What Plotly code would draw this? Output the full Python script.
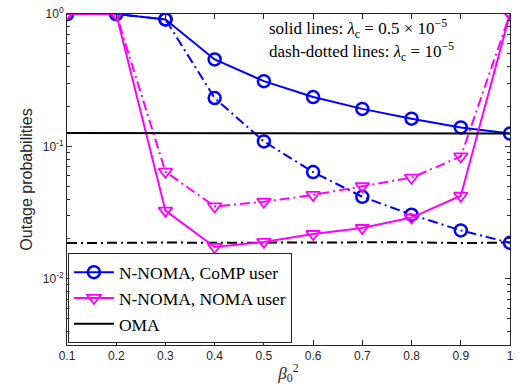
import plotly.graph_objects as go

beta = [0.1, 0.2, 0.3, 0.4, 0.5, 0.6, 0.7, 0.8, 0.9, 1.0]
comp_solid = [1.0, 1.0, 0.91, 0.454, 0.311, 0.236, 0.192, 0.162, 0.139, 0.125]
noma_solid = [1.0, 1.0, 0.0327, 0.0174, 0.0190, 0.0218, 0.0242, 0.0290, 0.0424, 1.0]
oma_solid = [0.126, 0.126, 0.126, 0.126, 0.126, 0.126, 0.126, 0.126, 0.126, 0.125]
comp_dd = [1.0, 1.0, 0.91, 0.232, 0.109, 0.064, 0.0416, 0.0305, 0.0232, 0.0187]
noma_dd = [1.0, 1.0, 0.0644, 0.0352, 0.0382, 0.043, 0.050, 0.058, 0.084, 1.0]
oma_dd = [0.0186, 0.0188, 0.0188, 0.0187, 0.0188, 0.0188, 0.0188, 0.0189, 0.0186, 0.0188]

xticks = [0.1, 0.2, 0.3, 0.4, 0.5, 0.6, 0.7, 0.8, 0.9, 1.0]
xticklabels = ["0.1", "0.2", "0.3", "0.4", "0.5", "0.6", "0.7", "0.8", "0.9", "1"]
yticks = [0.01, 0.1, 1]
yticklabels = ["10<sup>-2</sup>", "10<sup>-1</sup>", "10<sup>0</sup>"]
yminor = [0.004, 0.005, 0.006, 0.007, 0.008, 0.009,
          0.02, 0.03, 0.04, 0.05, 0.06, 0.07, 0.08, 0.09,
          0.2, 0.3, 0.4, 0.5, 0.6, 0.7, 0.8, 0.9]

BLUE = "rgb(0,0,255)"
MAG = "rgb(255,0,255)"
DD = "10px,4px,2px,4px"

fig = go.Figure()
fig.add_trace(go.Scatter(x=beta, y=oma_dd, mode="lines", line=dict(color="black", width=2, dash=DD), showlegend=False))
fig.add_trace(go.Scatter(x=beta, y=comp_dd, mode="lines+markers", line=dict(color=BLUE, width=2, dash=DD),
                         marker=dict(symbol="circle-open", size=12, line=dict(width=2.5, color=BLUE)), showlegend=False))
fig.add_trace(go.Scatter(x=beta, y=noma_dd, mode="lines+markers", line=dict(color=MAG, width=2, dash=DD),
                         marker=dict(symbol="triangle-down-open", size=12, line=dict(width=1.8, color=MAG)), showlegend=False))
fig.add_trace(go.Scatter(x=beta, y=comp_solid, mode="lines+markers", name="N-NOMA, CoMP user",
                         line=dict(color=BLUE, width=2),
                         marker=dict(symbol="circle-open", size=12, line=dict(width=2.5, color=BLUE))))
fig.add_trace(go.Scatter(x=beta, y=noma_solid, mode="lines+markers", name="N-NOMA, NOMA user",
                         line=dict(color=MAG, width=2),
                         marker=dict(symbol="triangle-down-open", size=12, line=dict(width=1.8, color=MAG))))
fig.add_trace(go.Scatter(x=beta, y=oma_solid, mode="lines", name="OMA", line=dict(color="black", width=2)))
# invisible carrier trace for the minor-tick axis
fig.add_trace(go.Scatter(x=[beta[0]], y=[yticks[-1]], yaxis="y2", mode="markers",
                         marker=dict(opacity=0), showlegend=False, hoverinfo="skip"))

axcol = "rgb(38,38,38)"
fig.update_layout(
    width=519, height=388,
    margin=dict(l=67, r=5, t=11, b=43),
    paper_bgcolor="white", plot_bgcolor="white",
    font=dict(family="Liberation Sans, Arial", size=12, color=axcol),
    legend=dict(x=0.002, y=0.005, xanchor="left", yanchor="bottom",
                bgcolor="white", bordercolor="rgb(38,38,38)", borderwidth=1,
                font=dict(family="Liberation Serif, DejaVu Serif", size=17.5, color="black"),
                tracegroupgap=0, itemwidth=40),
    xaxis=dict(range=[0.1, 1.0], tickvals=xticks, ticktext=xticklabels,
               ticks="inside", ticklen=5, tickcolor=axcol, showline=True, linecolor=axcol, linewidth=1,
               mirror="ticks", showgrid=False, zeroline=False,
               title=dict(text="<i>β</i><sub>0</sub><sup>2</sup>", standoff=4,
                          font=dict(family="Liberation Serif, DejaVu Serif", size=17, color=axcol))),
    yaxis=dict(type="log", range=[-2.5, 0], tickvals=yticks, ticktext=yticklabels,
               ticks="inside", ticklen=5, tickcolor=axcol, showline=True, linecolor=axcol, linewidth=1,
               mirror="ticks", showgrid=False, zeroline=False,
               title=dict(text="Outage probabilities", standoff=6,
                          font=dict(family="Liberation Sans, Arial", size=16, color=axcol))),
    yaxis2=dict(type="log", range=[-2.5, 0], overlaying="y", anchor="x", side="left",
                tickmode="array", tickvals=yminor,
                ticks="inside", ticklen=3, tickwidth=1, tickcolor=axcol,
                showline=True, linecolor=axcol, linewidth=1, mirror="ticks",
                showticklabels=False, showgrid=False, zeroline=False),
)
fig.add_annotation(xref="paper", yref="paper", x=0.452, y=0.955, xanchor="left", yanchor="middle",
                   text="solid lines: <i>λ</i><sub>c</sub> = 0.5 × 10<sup>−5</sup>", showarrow=False,
                   font=dict(family="Liberation Serif, DejaVu Serif", size=17, color="black"))
fig.add_annotation(xref="paper", yref="paper", x=0.452, y=0.886, xanchor="left", yanchor="middle",
                   text="dash-dotted lines: <i>λ</i><sub>c</sub> = 10<sup>−5</sup>", showarrow=False,
                   font=dict(family="Liberation Serif, DejaVu Serif", size=17, color="black"))

fig.write_html("out.html")
